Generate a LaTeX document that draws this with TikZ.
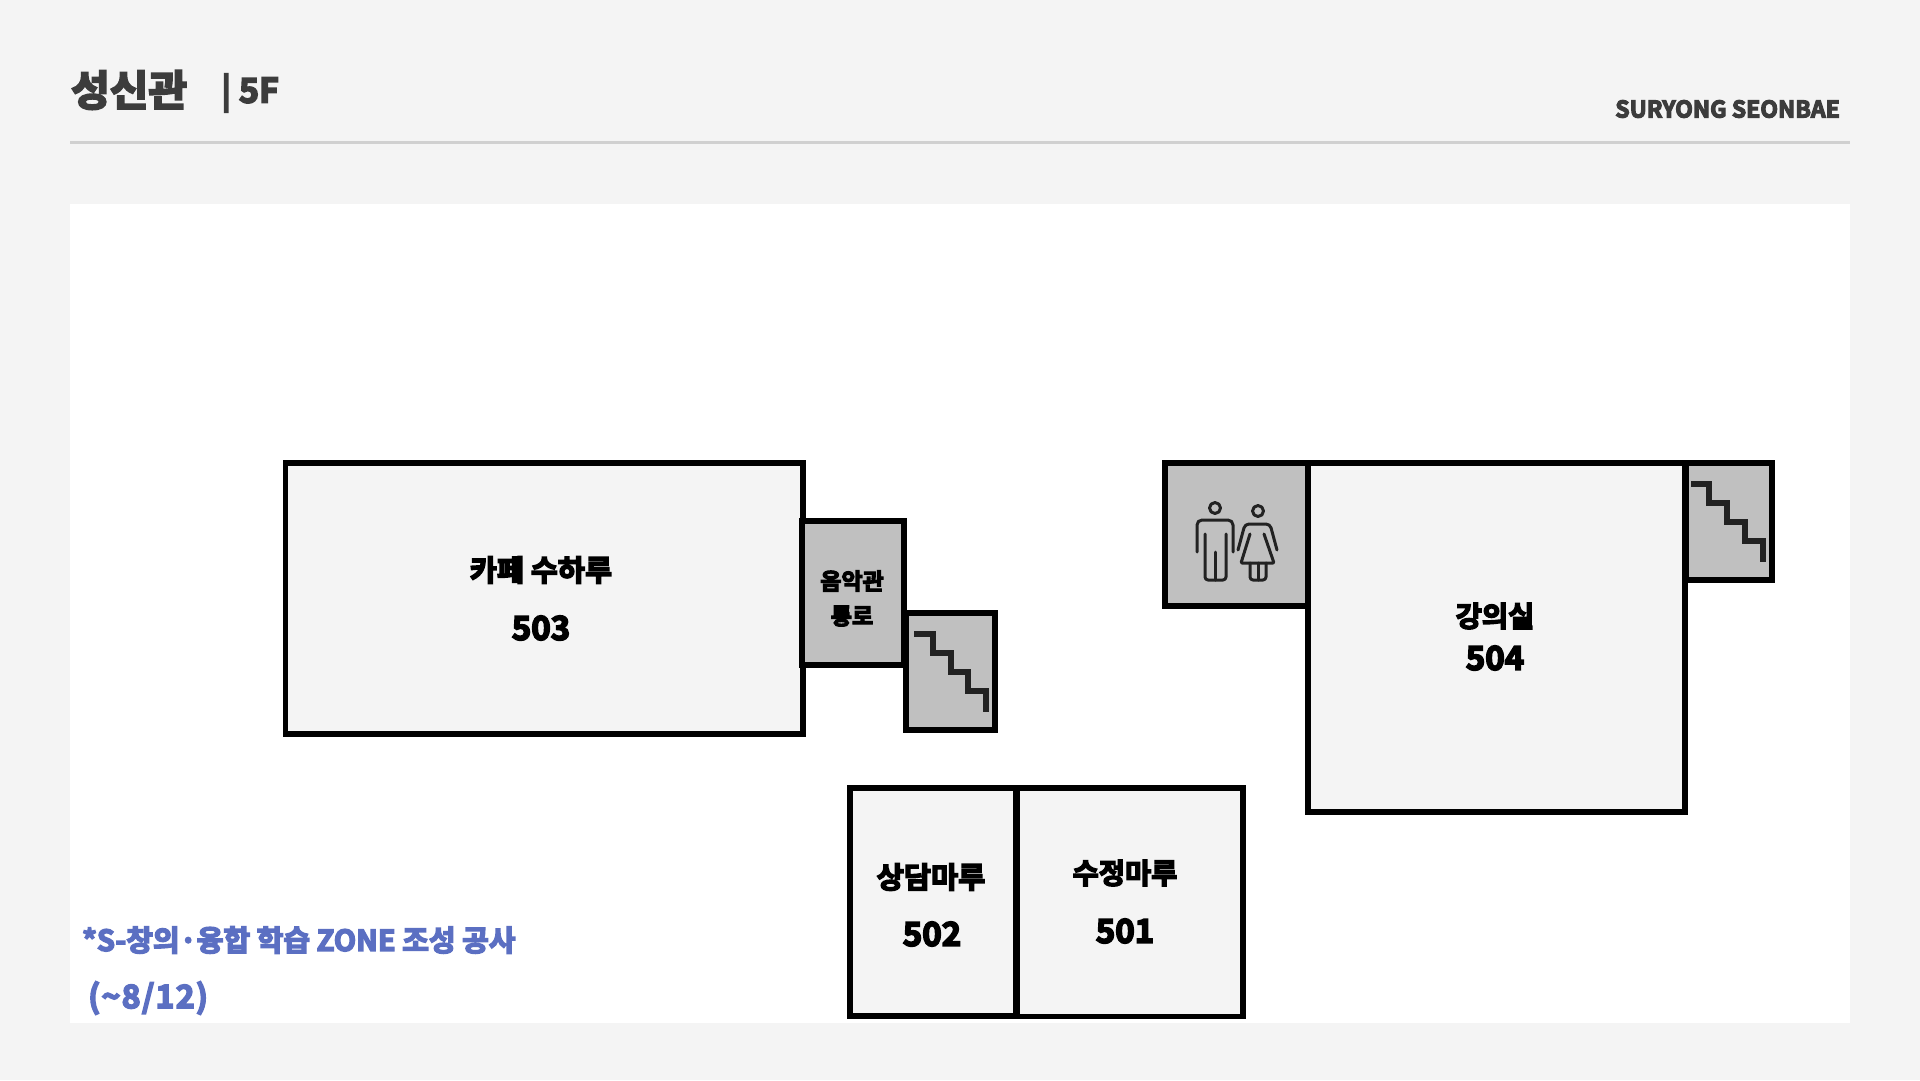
\documentclass[tikz,border=0pt]{standalone}
\usepackage{fontspec}
\setmainfont{Noto Sans CJK KR}[BoldFont={Noto Sans CJK KR Bold},BoldFeatures={FakeBold=5}]
\definecolor{pagebg}{HTML}{F4F4F4}
\definecolor{roomfill}{HTML}{F4F4F4}
\definecolor{roomgrey}{HTML}{C0C0C0}
\definecolor{rule}{HTML}{D0D0D0}
\definecolor{headink}{HTML}{3C3C3C}
\definecolor{noteblue}{HTML}{5B6FC2}
\definecolor{stair}{HTML}{222222}
\tikzset{
  room/.style={draw=black,line width=5.6pt,fill=roomfill,line join=miter},
  service/.style={draw=black,line width=5.6pt,fill=roomgrey,line join=miter},
  stairline/.style={draw=stair,line width=5.4pt,line join=miter},
  icon/.style={draw=stair,line width=3pt,line cap=round,line join=round,rounded corners=3pt},
  lbl/.style={inner sep=0pt,font=\bfseries,text=black,anchor=center},
}
\newcommand{\fsz}[1]{\fontsize{#1pt}{#1pt}\selectfont}
\begin{document}
\begin{tikzpicture}[x=1pt,y=-1pt]
\useasboundingbox (0,0) rectangle (1920,1080);
\fill[pagebg] (0,0) rectangle (1920,1080);
\fill[white] (70,204) rectangle (1850,1023);
\draw[rule,line width=3pt] (70,142) -- (1850,142);
% header
\node[lbl,text=headink,anchor=west,font=\bfseries\fsz{42}] (title) at (71,90) {성신관};
\node[lbl,text=headink,anchor=west,font=\bfseries\fsz{34}] (floor) at (221,93) {| 5F};
\node[lbl,text=headink,anchor=east,font=\bfseries\fsz{23}] (brand) at (1840,109) {SURYONG SEONBAE};
% rooms
\draw[room] (285.5,462.8) rectangle (803.2,734.2);
\draw[service] (801.8,520.8) rectangle (904.2,665.2);
\draw[service] (905.8,612.8) rectangle (995.2,730.2);
\draw[stairline] (914,634) -- (933,634) -- (933,653) -- (951,653) -- (951,672) -- (968,672) -- (968,691) -- (986,691) -- (986,712);
\draw[service] (1164.8,462.8) rectangle (1307.8,606.2);
\draw[room] (1307.8,462.8) rectangle (1685.2,811.8);
\draw[service] (1685.8,462.8) rectangle (1772.2,580.2);
\draw[stairline] (1691,484) -- (1709,484) -- (1709,503) -- (1727,503) -- (1727,522) -- (1745,522) -- (1745,541) -- (1763,541) -- (1763,562);
\draw[room] (849.8,787.8) rectangle (1016.2,1016.2);
\draw[room] (1017,787.8) rectangle (1243.2,1016.6);
% man icon
\draw[icon,rounded corners=0pt] (1215,508) circle (5.5);
\draw[icon,rounded corners=5pt] (1197,552) -- (1197,520) -- (1233,520) -- (1233,552);
\draw[icon] (1205,534) -- (1205,580) -- (1226,580) -- (1226,534);
\draw[icon] (1215,552) -- (1215,580);
% woman icon
\draw[icon,rounded corners=0pt] (1258,511) circle (5.5);
\draw[icon,rounded corners=4pt] (1238,550) -- (1245,524) -- (1270,524) -- (1277,550);
\draw[icon,rounded corners=1pt] (1250,534) -- (1241,563) -- (1274,563) -- (1264,534);
\draw[icon] (1250,563) -- (1250,580) -- (1266,580) -- (1266,563);
\draw[icon] (1258,563) -- (1258,580);
% labels
\node[lbl,font=\bfseries\fsz{29.5}] (cafe) at (541,570) {카페 수하루};
\node[lbl,font=\bfseries\fsz{33}] (n503) at (541,628) {503};
\node[lbl,font=\bfseries\fsz{23}] (music) at (852,581) {음악관};
\node[lbl,font=\bfseries\fsz{23}] (pass) at (852,616) {통로};
\node[lbl,font=\bfseries\fsz{28.5}] (lec) at (1495,616) {강의실};
\node[lbl,font=\bfseries\fsz{33}] (n504) at (1495,658) {504};
\node[lbl,font=\bfseries\fsz{29.5}] (counsel) at (931,877) {상담마루};
\node[lbl,font=\bfseries\fsz{28.5}] (sujeong) at (1125,873) {수정마루};
\node[lbl,font=\bfseries\fsz{33}] (n502) at (932,934) {502};
\node[lbl,font=\bfseries\fsz{33}] (n501) at (1125,931) {501};
% note
\node[lbl,text=noteblue,anchor=west,font=\bfseries\fsz{29}] (note1) at (82,940) {*S-창의·융합 학습 ZONE 조성 공사};
\node[lbl,text=noteblue,anchor=west,font=\bfseries\fsz{32}\addfontfeature{LetterSpace=4}] (note2) at (88,998) {(\string~8/12)};
\end{tikzpicture}
\end{document}
